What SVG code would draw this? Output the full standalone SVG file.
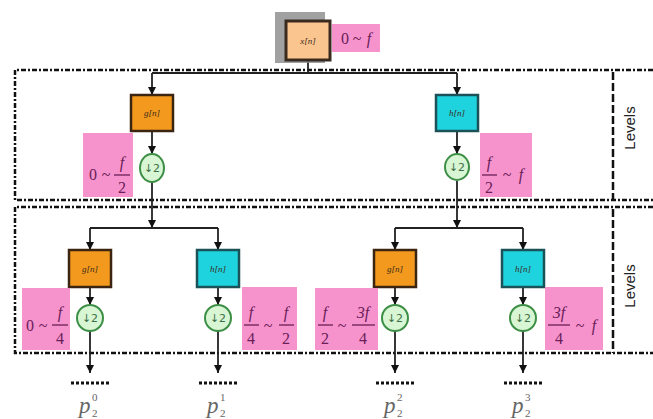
<svg xmlns="http://www.w3.org/2000/svg" width="653" height="419" viewBox="0 0 653 419">
<defs>
<marker id="ah" viewBox="0 0 10 10" refX="10" refY="5" markerWidth="8" markerHeight="8" orient="auto" markerUnits="userSpaceOnUse">
<path d="M0,0 L10,5 L0,10 z" fill="#111"/>
</marker>
<style>
.border{fill:none;stroke:#111;stroke-width:2.5;stroke-dasharray:5 2 2 2}
.sep{fill:none;stroke:#111;stroke-width:2.5;stroke-dasharray:8 3}
.conn{fill:none;stroke:#222;stroke-width:1.8}
.arr{fill:none;stroke:#222;stroke-width:1.8;marker-end:url(#ah)}
.dots{fill:none;stroke:#111;stroke-width:3;stroke-dasharray:3 2}
.gbox{fill:#f39a1e;stroke:#3b2410;stroke-width:2.5}
.hbox{fill:#1fd3de;stroke:#1a5258;stroke-width:2.5}
.lbl{font-family:"Liberation Serif",serif;font-style:italic;font-size:9px;fill:#3a2a1a;text-anchor:middle}
.circ{fill:#d8f5d4;stroke:#3d8f46;stroke-width:2}
.ctext{font-family:"DejaVu Sans",sans-serif;font-size:11px;fill:#3d6f46;text-anchor:middle}
.pink{fill:#f693cc}
.m{font-family:"Liberation Serif",serif;font-style:italic;font-size:16px;fill:#6a2058;text-anchor:middle}
.mn{font-family:"Liberation Serif",serif;font-size:16px;fill:#6a2058;text-anchor:middle}
.bar{stroke:#6a2058;stroke-width:1.3}
.lev{font-family:"Liberation Sans",sans-serif;font-size:15px;fill:#222;text-anchor:middle}
.p{font-family:"Liberation Serif",serif;font-style:italic;font-size:23px;fill:#666}
.ps{font-family:"Liberation Serif",serif;font-size:11px;fill:#666}
</style>
</defs>
<rect width="653" height="419" fill="#fff"/>

<g id="level1-frame">
<path class="border" d="M653,70 H15 V200 H653"/>
<path class="sep" d="M613,72 V200"/>
<text class="lev" transform="translate(635,128) rotate(-90)">Levels</text>
</g>
<g id="level2-frame">
<path class="border" d="M653,207 H15 V353 H653"/>
<path class="sep" d="M613,209 V353"/>
<text class="lev" transform="translate(635,286) rotate(-90)">Levels</text>
</g>

<g id="connectors">
<path class="conn" d="M308,60 V73 M152,73 H457"/>
<path class="arr" d="M152,73 V95"/>
<path class="arr" d="M457,73 V95"/>
<path class="arr" d="M152,131 V154"/>
<path class="arr" d="M457,131 V154"/>
<path class="arr" d="M152,182 V228"/>
<path class="arr" d="M457,181 V228"/>
<path class="conn" d="M90,228 H218 M395,228 H523"/>
<path class="arr" d="M90,228 V250"/>
<path class="arr" d="M218,228 V250"/>
<path class="arr" d="M395,228 V250"/>
<path class="arr" d="M523,228 V250"/>
<path class="arr" d="M90,287 V305"/>
<path class="arr" d="M218,287 V305"/>
<path class="arr" d="M395,287 V305"/>
<path class="arr" d="M523,287 V305"/>
<path class="arr" d="M90,331 V373"/>
<path class="arr" d="M218,331 V373"/>
<path class="arr" d="M395,331 V373"/>
<path class="arr" d="M523,331 V373"/>
</g>

<g id="x-node">
<rect x="275" y="12" width="50" height="51" fill="#8a8a8a" opacity="0.8"/>
<rect x="286" y="21" width="44" height="39" fill="#fbc58f" stroke="#3a2a1e" stroke-width="3"/>
<text class="lbl" x="308" y="44">x[n]</text>
<rect class="pink" x="332" y="24" width="48" height="28"/>
<text class="mn" x="345" y="44">0</text>
<text class="mn" x="357" y="44">~</text>
<text class="m" x="369" y="44">f</text>
</g>

<g id="g1-node">
<rect class="gbox" x="131" y="95" width="42" height="36"/>
<text class="lbl" x="152" y="116">g[n]</text>
</g>
<g id="h1-node">
<rect class="hbox" x="436" y="95" width="42" height="36"/>
<text class="lbl" x="457" y="116">h[n]</text>
</g>
<g id="d1-left">
<ellipse class="circ" cx="152" cy="168" rx="12" ry="14"/>
<text class="ctext" x="152" y="172">↓2</text>
</g>
<g id="d1-right">
<ellipse class="circ" cx="457" cy="167" rx="12" ry="13"/>
<text class="ctext" x="457" y="171">↓2</text>
</g>
<g id="band1-left">
<rect class="pink" x="83" y="133" width="50" height="64"/>
<text class="mn" x="93" y="180">0</text>
<text class="mn" x="106" y="180">~</text>
<text class="m" x="122" y="168">f</text>
<line class="bar" x1="114" y1="175" x2="130" y2="175"/>
<text class="mn" x="122" y="193">2</text>
</g>
<g id="band1-right">
<rect class="pink" x="480" y="133" width="52" height="64"/>
<text class="m" x="489" y="168">f</text>
<line class="bar" x1="482" y1="175" x2="497" y2="175"/>
<text class="mn" x="489" y="193">2</text>
<text class="mn" x="507" y="180">~</text>
<text class="m" x="521" y="180">f</text>
</g>

<g id="g2a-node">
<rect class="gbox" x="69" y="250" width="42" height="37"/>
<text class="lbl" x="90" y="272">g[n]</text>
</g>
<g id="h2a-node">
<rect class="hbox" x="197" y="250" width="42" height="37"/>
<text class="lbl" x="218" y="272">h[n]</text>
</g>
<g id="g2b-node">
<rect class="gbox" x="374" y="250" width="42" height="37"/>
<text class="lbl" x="395" y="272">g[n]</text>
</g>
<g id="h2b-node">
<rect class="hbox" x="502" y="250" width="42" height="37"/>
<text class="lbl" x="523" y="272">h[n]</text>
</g>

<g id="d2a"><circle class="circ" cx="90" cy="318" r="13"/><text class="ctext" x="90" y="322">↓2</text></g>
<g id="d2b"><circle class="circ" cx="218" cy="318" r="13"/><text class="ctext" x="218" y="322">↓2</text></g>
<g id="d2c"><circle class="circ" cx="395" cy="318" r="13"/><text class="ctext" x="395" y="322">↓2</text></g>
<g id="d2d"><circle class="circ" cx="523" cy="318" r="13"/><text class="ctext" x="523" y="322">↓2</text></g>

<g id="band2-a">
<rect class="pink" x="22" y="288" width="48" height="62"/>
<text class="mn" x="30" y="331">0</text>
<text class="mn" x="43" y="331">~</text>
<text class="m" x="60" y="318">f</text>
<line class="bar" x1="52" y1="325" x2="68" y2="325"/>
<text class="mn" x="60" y="344">4</text>
</g>
<g id="band2-b">
<rect class="pink" x="242" y="287" width="55" height="63"/>
<text class="m" x="251" y="318">f</text>
<line class="bar" x1="244" y1="325" x2="259" y2="325"/>
<text class="mn" x="251" y="344">4</text>
<text class="mn" x="268" y="331">~</text>
<text class="m" x="286" y="318">f</text>
<line class="bar" x1="279" y1="325" x2="294" y2="325"/>
<text class="mn" x="286" y="344">2</text>
</g>
<g id="band2-c">
<rect class="pink" x="315" y="288" width="63" height="62"/>
<text class="m" x="325" y="318">f</text>
<line class="bar" x1="318" y1="325" x2="333" y2="325"/>
<text class="mn" x="325" y="344">2</text>
<text class="mn" x="342" y="331">~</text>
<text class="m" x="363" y="318">3f</text>
<line class="bar" x1="352" y1="325" x2="375" y2="325"/>
<text class="mn" x="363" y="344">4</text>
</g>
<g id="band2-d">
<rect class="pink" x="545" y="287" width="58" height="63"/>
<text class="m" x="559" y="318">3f</text>
<line class="bar" x1="548" y1="325" x2="570" y2="325"/>
<text class="mn" x="559" y="344">4</text>
<text class="mn" x="580" y="331">~</text>
<text class="m" x="594" y="331">f</text>
</g>

<g id="out-0">
<path class="dots" d="M71,383 H111"/>
<text class="p" x="79" y="413">p</text><text class="ps" x="92" y="417">2</text><text class="ps" x="92" y="401">0</text>
</g>
<g id="out-1">
<path class="dots" d="M199,383 H239"/>
<text class="p" x="207" y="413">p</text><text class="ps" x="220" y="417">2</text><text class="ps" x="220" y="401">1</text>
</g>
<g id="out-2">
<path class="dots" d="M376,383 H416"/>
<text class="p" x="384" y="413">p</text><text class="ps" x="397" y="417">2</text><text class="ps" x="397" y="401">2</text>
</g>
<g id="out-3">
<path class="dots" d="M504,383 H544"/>
<text class="p" x="512" y="413">p</text><text class="ps" x="525" y="417">2</text><text class="ps" x="525" y="401">3</text>
</g>
</svg>
